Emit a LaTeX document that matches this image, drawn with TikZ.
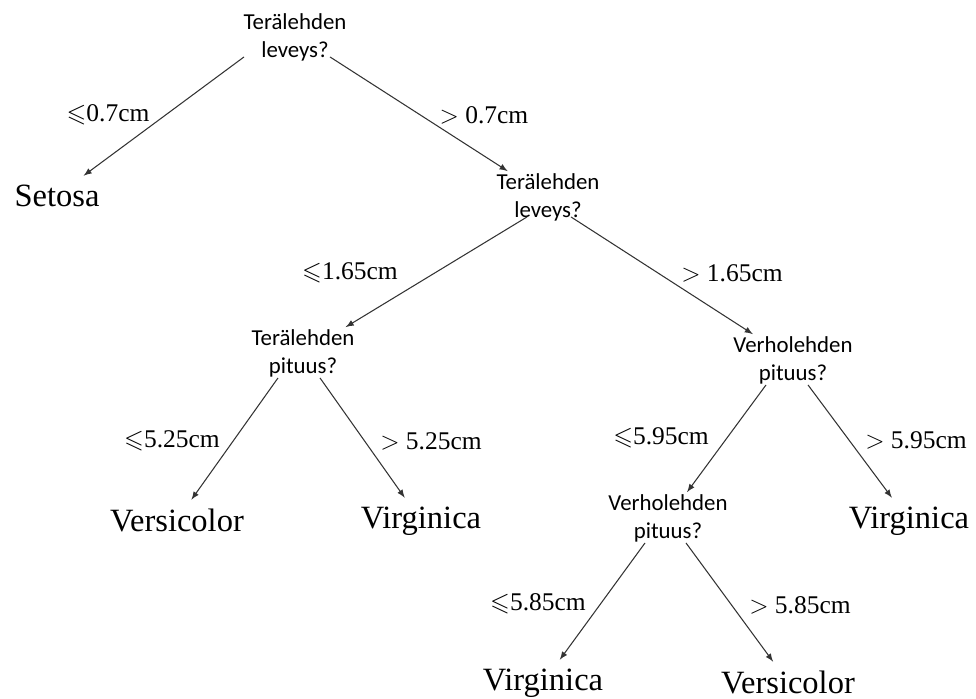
\documentclass[tikz,border=0pt]{standalone}
\usepackage{amssymb}
\usepackage{fontspec}
\usepackage{tikz}
\usetikzlibrary{arrows,calc,positioning}
\newfontfamily\calibri{Carlito}
\newfontfamily\serif{Liberation Serif}
\tikzset{%
	question/.style = {align=center, inner sep=1pt, font=\calibri\fontsize{13}{16}\selectfont},
	leaf/.style     = {anchor=base, inner sep=2pt, outer sep=3pt, font=\serif\fontsize{18.5}{20}\selectfont},
	cond/.style     = {inner sep=0pt, font=\serif\fontsize{14.5}{16}\selectfont},
	arrow/.style    = {line width=0.6pt, draw=black!80, -latex},
}

\begin{document}
\begin{tikzpicture}[x=0.02cm,y=-0.02cm]
		\useasboundingbox (0,0) rectangle (976,698);
		% kysymykset
		\node[question] (q1) at (295,37) {Terälehden\\leveys?};
		\node[question] (q2) at (548,197) {Terälehden\\leveys?};
		\node[question] (q3) at (303,353) {Terälehden\\pituus?};
		\node[question] (q4) at (793,360) {Verholehden\\pituus?};
		\node[question] (q5) at (668,518) {Verholehden\\pituus?};
		% lehdet
		\node[leaf] (setosa) at (57,206) {Setosa};
		\node[leaf] (vc1) at (177,531) {Versicolor};
		\node[leaf] (vg1) at (421,528) {Virginica};
		\node[leaf] (vg2) at (909,528) {Virginica};
		\node[leaf] (vg3) at (543,690) {Virginica};
		\node[leaf] (vc2) at (788,693) {Versicolor};
		% nuolet
		\draw[arrow] ([xshift=-1.02cm,yshift=0.12cm]q1.south) -- (setosa);
		\draw[arrow] ([xshift=0.7cm,yshift=0.12cm]q1.south) -- (q2);
		\draw[arrow] ([xshift=-0.42cm,yshift=0.12cm]q2.south) -- (q3);
		\draw[arrow] ([xshift=0.46cm,yshift=0.12cm]q2.south) -- (q4);
		\draw[arrow] ([xshift=-0.5cm,yshift=0.02cm]q3.south) -- (vc1);
		\draw[arrow] ([xshift=0.34cm,yshift=0.02cm]q3.south) -- (vg1);
		\draw[arrow] ([xshift=-0.54cm,yshift=0.02cm]q4.south) -- (q5);
		\draw[arrow] ([xshift=0.3cm,yshift=0.02cm]q4.south) -- (vg2);
		\draw[arrow] ([xshift=-0.46cm,yshift=0.02cm]q5.south) -- (vg3);
		\draw[arrow] ([xshift=0.36cm,yshift=0.02cm]q5.south) -- (vc2);
		% ehdot
		\node[cond] (c1) at (108,115) {$\leqslant$0.7cm};
		\node[cond] (c2) at (484,115) {$>$ 0.7cm};
		\node[cond] (c3) at (350,273) {$\leqslant$1.65cm};
		\node[cond] (c4) at (732,273) {$>$ 1.65cm};
		\node[cond] (c5) at (172,441) {$\leqslant$5.25cm};
		\node[cond] (c6) at (431,441) {$>$ 5.25cm};
		\node[cond] (c7) at (661,438) {$\leqslant$5.95cm};
		\node[cond] (c8) at (916,440) {$>$ 5.95cm};
		\node[cond] (c9) at (538,604) {$\leqslant$5.85cm};
		\node[cond] (c10) at (800,605) {$>$ 5.85cm};
	\end{tikzpicture}
\end{document}
